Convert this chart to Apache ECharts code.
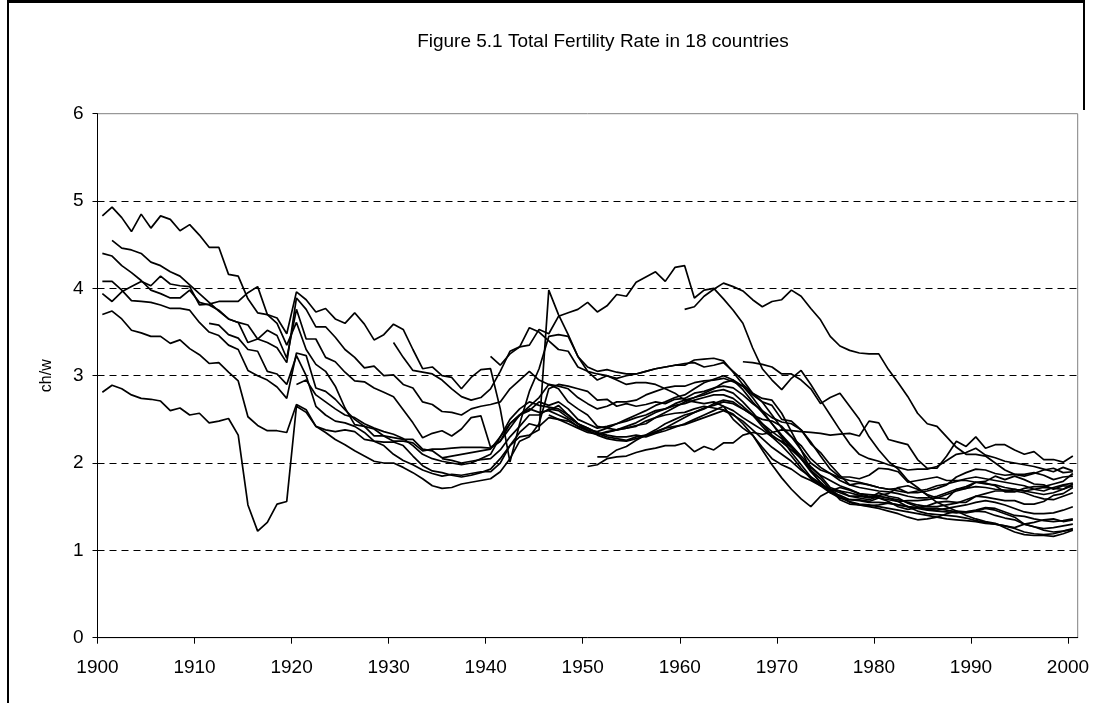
<!DOCTYPE html>
<html>
<head>
<meta charset="utf-8">
<script src="https://cdn.jsdelivr.net/npm/echarts@6/dist/echarts.min.js"></script>
<style>
  html, body { margin: 0; padding: 0; background: #fff; }
  #chart { width: 1093px; height: 703px; }
</style>
</head>
<body>
<div id="chart"></div>
<script>
// first year of each series (values run yearly up to 2000)
const seriesStart = [1900, 1901, 1900, 1900, 1900, 1900, 1900, 1911, 1930, 1940, 1950, 1951, 1960, 1966, 1920, 1935, 1946, 1946];

const s01 = [4.83,4.93,4.81,4.65,4.85,4.69,4.83,4.79,4.66,4.73,
  4.61,4.47,4.47,4.16,4.14,3.88,3.72,3.70,3.66,3.48,
  3.96,3.87,3.73,3.77,3.65,3.60,3.72,3.59,3.41,3.47,
  3.59,3.53,3.30,3.08,3.10,3.00,2.98,2.85,2.98,3.07,
  3.08,2.62,2.01,2.45,2.82,3.08,3.45,3.47,3.45,3.22,
  3.10,3.05,3.07,3.04,3.02,3.02,3.05,3.08,3.10,3.12,
  3.12,3.18,3.19,3.20,3.17,3.04,2.90,2.80,2.74,2.72,
  2.57,2.36,2.15,1.92,1.77,1.66,1.63,1.58,1.58,1.56,
  1.60,1.56,1.50,1.47,1.49,1.51,1.55,1.56,1.55,1.55,
  1.62,1.61,1.59,1.57,1.57,1.53,1.53,1.56,1.63,1.65,
  1.72];
const s02 = [4.55,4.46,4.44,4.40,4.30,4.26,4.19,4.14,4.04,
  3.94,3.84,3.74,3.65,3.61,3.58,3.42,3.38,3.32,3.15,
  3.89,3.76,3.56,3.56,3.44,3.30,3.21,3.09,3.11,3.00,
  3.01,2.90,2.86,2.70,2.67,2.59,2.58,2.55,2.62,2.65,
  2.67,2.70,2.85,2.95,3.05,2.95,2.90,2.88,2.85,2.75,
  2.68,2.62,2.65,2.70,2.70,2.72,2.78,2.82,2.86,2.88,
  2.88,2.92,2.94,2.95,2.97,2.93,2.88,2.78,2.70,2.66,
  2.50,2.48,2.38,2.22,2.12,1.98,1.86,1.75,1.77,1.75,
  1.72,1.70,1.71,1.66,1.66,1.68,1.71,1.75,1.84,1.89,
  1.93,1.92,1.88,1.86,1.87,1.87,1.89,1.86,1.81,1.84,
  1.85];
const s03 = [4.40,4.37,4.26,4.18,4.09,3.98,3.94,3.89,3.89,3.98,
  3.84,3.81,3.75,3.65,3.61,3.38,3.42,3.52,3.46,3.20,
  3.76,3.42,3.42,3.21,3.16,3.04,2.94,2.93,2.86,2.81,
  2.76,2.61,2.46,2.29,2.34,2.37,2.31,2.39,2.52,2.54,
  2.18,2.25,2.45,2.55,2.65,2.75,2.90,2.85,2.70,2.62,
  2.55,2.42,2.40,2.38,2.40,2.42,2.48,2.52,2.58,2.64,
  2.70,2.75,2.78,2.82,2.84,2.80,2.70,2.58,2.45,2.32,
  2.24,2.15,2.05,1.95,1.85,1.72,1.68,1.62,1.60,1.58,
  1.62,1.60,1.56,1.50,1.45,1.42,1.41,1.40,1.39,1.37,
  1.34,1.32,1.30,1.28,1.26,1.30,1.32,1.35,1.36,1.33,
  1.35];
const s04 = [4.08,4.08,3.98,3.86,3.85,3.84,3.81,3.77,3.77,3.75,
  3.61,3.50,3.46,3.35,3.30,3.06,3.00,2.95,2.87,2.74,
  3.26,3.23,2.86,2.82,2.73,2.61,2.50,2.42,2.39,2.31,
  2.29,2.27,2.27,2.16,2.14,2.06,2.08,2.10,2.12,2.14,
  2.16,2.30,2.50,2.62,2.70,2.66,2.64,2.62,2.55,2.45,
  2.40,2.35,2.32,2.30,2.30,2.32,2.30,2.34,2.37,2.41,
  2.45,2.50,2.55,2.60,2.65,2.60,2.52,2.45,2.38,2.30,
  2.25,2.18,2.05,1.92,1.82,1.70,1.58,1.53,1.52,1.50,
  1.48,1.45,1.42,1.38,1.35,1.36,1.38,1.42,1.45,1.44,
  1.45,1.48,1.46,1.42,1.38,1.30,1.27,1.23,1.21,1.22,
  1.24];
const s05 = [3.94,3.85,3.96,4.02,4.08,4.03,4.14,4.05,4.03,4.02,
  3.81,3.82,3.85,3.85,3.85,3.95,4.02,3.70,3.60,3.35,
  3.61,3.30,3.13,3.05,2.88,2.63,2.44,2.42,2.31,2.31,
  2.25,2.25,2.23,2.14,2.16,2.16,2.17,2.18,2.18,2.18,
  2.17,2.25,2.40,2.55,2.62,2.58,2.60,2.66,2.55,2.45,
  2.37,2.32,2.28,2.26,2.25,2.28,2.31,2.36,2.40,2.46,
  2.52,2.58,2.63,2.66,2.70,2.68,2.62,2.55,2.45,2.36,
  2.28,2.12,1.98,1.84,1.76,1.70,1.62,1.55,1.52,1.51,
  1.52,1.54,1.52,1.50,1.48,1.46,1.45,1.44,1.43,1.44,
  1.46,1.49,1.48,1.44,1.40,1.39,1.36,1.34,1.33,1.34,
  1.36];
const s06 = [3.70,3.74,3.65,3.52,3.49,3.45,3.45,3.37,3.41,3.31,
  3.24,3.14,3.15,3.04,2.94,2.53,2.43,2.37,2.37,2.35,
  2.67,2.61,2.42,2.38,2.36,2.38,2.36,2.27,2.25,2.24,
  2.24,2.20,2.08,1.97,1.91,1.89,1.86,1.84,1.86,1.89,
  1.93,2.05,2.20,2.35,2.45,2.42,2.52,2.50,2.48,2.42,
  2.37,2.33,2.36,2.38,2.40,2.43,2.45,2.52,2.55,2.57,
  2.58,2.62,2.65,2.63,2.61,2.56,2.45,2.32,2.18,2.05,
  1.98,1.93,1.85,1.80,1.74,1.70,1.68,1.66,1.63,1.61,
  1.60,1.58,1.56,1.57,1.57,1.58,1.60,1.64,1.68,1.71,
  1.73,1.72,1.70,1.69,1.68,1.66,1.62,1.59,1.58,1.62,
  1.66];
const s07 = [2.81,2.89,2.85,2.78,2.74,2.73,2.71,2.60,2.63,2.55,
  2.57,2.46,2.48,2.51,2.32,1.52,1.22,1.32,1.53,1.56,
  2.65,2.58,2.42,2.35,2.27,2.21,2.14,2.08,2.02,2.00,
  2.00,1.95,1.89,1.82,1.74,1.71,1.72,1.76,1.78,1.80,
  1.82,1.90,2.05,2.25,2.30,2.45,2.85,2.90,2.88,2.85,
  2.82,2.72,2.73,2.65,2.68,2.65,2.67,2.70,2.68,2.73,
  2.74,2.80,2.82,2.86,2.88,2.86,2.78,2.68,2.60,2.52,
  2.47,2.45,2.38,2.24,2.08,1.93,1.84,1.84,1.82,1.86,
  1.94,1.93,1.90,1.78,1.80,1.82,1.84,1.80,1.80,1.80,
  1.78,1.77,1.74,1.67,1.67,1.71,1.73,1.73,1.76,1.79,
  1.88];
const s08 = [3.60,3.58,3.47,3.43,3.30,3.28,3.05,3.02,2.90,
  3.23,3.00,2.65,2.55,2.48,2.46,2.42,2.35,2.25,2.20,
  2.10,2.03,1.98,1.92,1.88,1.85,1.87,1.86,1.88,1.90,
  1.90,2.00,2.20,2.30,2.32,2.38,3.98,3.70,3.47,3.22,
  3.05,2.95,3.00,2.95,2.90,2.92,2.92,2.90,2.85,2.80,
  2.72,2.70,2.68,2.70,2.65,2.50,2.40,2.32,2.15,1.98,
  1.83,1.70,1.59,1.50,1.62,1.68,1.72,1.69,1.65,1.64,
  1.63,1.65,1.72,1.74,1.70,1.64,1.60,1.59,1.70,1.71,
  1.78,1.79,1.85,1.81,1.85,1.81,1.76,1.75,1.70,1.74,
  1.73];
const s09 = [3.38,3.21,3.06,3.04,3.02,2.95,2.85,2.76,2.72,2.75,
  2.85,3.05,3.28,3.33,3.55,3.50,3.40,3.30,3.28,3.10,
  3.05,3.02,3.00,2.97,3.00,3.02,3.05,3.08,3.10,3.12,
  3.14,3.15,3.10,3.12,3.15,3.05,2.95,2.80,2.70,2.55,
  2.40,2.30,2.15,2.00,1.92,1.88,1.83,1.80,1.78,1.75,
  1.72,1.70,1.68,1.66,1.68,1.70,1.74,1.76,1.79,1.82,
  1.84,1.82,1.80,1.78,1.76,1.74,1.70,1.68,1.72,1.75,
  1.77];
const s10 = [3.22,3.12,3.25,3.33,3.35,3.53,3.48,3.68,3.72,3.76,
  3.84,3.73,3.80,3.93,3.91,4.07,4.13,4.19,4.08,4.24,
  4.26,3.89,3.98,4.00,3.88,3.75,3.60,3.32,3.08,2.95,
  2.84,2.97,3.06,2.90,2.72,2.55,2.38,2.22,2.10,2.05,
  2.02,1.98,1.95,1.92,1.93,1.93,1.96,2.03,2.10,2.12,
  2.17,2.09,2.06,2.02,2.00,1.98,1.96,1.93,1.90,1.95,
  1.91];
const s11 = [1.96,1.98,2.05,2.07,2.08,2.12,2.15,2.17,2.20,2.20,
  2.23,2.13,2.19,2.15,2.23,2.23,2.32,2.35,2.33,2.35,
  2.38,2.37,2.36,2.35,2.34,2.32,2.33,2.34,2.31,2.48,
  2.46,2.27,2.24,2.21,2.04,1.94,1.94,2.08,2.25,2.19,
  2.30,2.17,2.21,2.21,2.15,2.10,2.13,2.04,2.04,2.01,
  2.08];
const s12 = [2.07,2.07,2.15,2.19,2.26,2.32,2.38,2.45,2.50,
  2.55,2.58,2.62,2.68,2.72,2.70,2.62,2.55,2.50,2.48,
  2.42,2.30,2.20,2.05,1.95,1.88,1.80,1.75,1.72,1.70,
  1.68,1.67,1.65,1.62,1.60,1.60,1.62,1.66,1.70,1.73,
  1.78,1.76,1.75,1.72,1.70,1.68,1.70,1.72,1.71,1.70,
  1.76];
const s13 = [3.76,3.79,3.91,3.99,4.06,4.02,3.97,3.87,3.79,3.85,
  3.87,3.98,3.91,3.77,3.64,3.45,3.34,3.29,3.26,3.25,
  3.25,3.07,2.92,2.76,2.57,2.45,2.42,2.30,2.18,2.10,
  2.10,2.08,2.00,1.92,1.87,1.85,1.88,1.92,1.94,1.89,
  1.90];
const s14 = [3.16,3.15,3.13,3.10,
  3.02,3.02,2.95,2.85,2.68,2.75,2.80,2.65,2.50,2.30,
  2.15,2.02,1.93,1.80,1.72,1.63,1.55,1.50,1.45,1.40,
  1.36,1.33,1.31,1.26,1.21,1.18,1.17,1.17,1.16,1.19,
  1.23];
const s15 = [2.90,2.95,2.78,2.70,2.62,2.55,2.52,2.45,2.40,2.36,
  2.33,2.28,2.20,2.10,2.05,2.02,2.00,1.98,2.00,2.05,
  2.10,2.30,2.45,2.55,2.60,2.70,2.66,2.70,2.62,2.50,
  2.45,2.40,2.42,2.45,2.48,2.52,2.55,2.60,2.62,2.66,
  2.68,2.72,2.75,2.78,2.78,2.74,2.65,2.55,2.42,2.30,
  2.20,2.08,1.94,1.82,1.74,1.66,1.60,1.56,1.53,1.52,
  1.50,1.48,1.46,1.44,1.42,1.40,1.38,1.36,1.35,1.34,
  1.33,1.31,1.30,1.28,1.25,1.21,1.19,1.18,1.19,1.22,
  1.25];
const s16 = [2.05,2.03,2.00,2.02,2.04,
  2.05,2.15,2.30,2.42,2.55,2.55,2.62,2.60,2.52,2.45,
  2.40,2.34,2.30,2.28,2.26,2.30,2.32,2.35,2.40,2.42,
  2.44,2.48,2.52,2.56,2.60,2.55,2.48,2.38,2.28,2.18,
  2.10,2.02,1.92,1.84,1.76,1.70,1.66,1.62,1.62,1.60,
  1.66,1.62,1.60,1.54,1.50,1.47,1.46,1.48,1.50,1.52,
  1.55,1.57,1.55,1.52,1.48,1.44,1.42,1.42,1.43,1.46,
  1.50];
const s17 = [2.55,2.50,2.45,2.40,
  2.35,2.33,2.35,2.38,2.42,2.46,2.52,2.58,2.62,2.68,
  2.72,2.75,2.80,2.85,2.92,2.95,2.88,2.75,2.60,2.45,
  2.30,2.18,2.05,1.90,1.78,1.68,1.60,1.58,1.57,1.55,
  1.55,1.54,1.52,1.50,1.49,1.48,1.48,1.46,1.44,1.43,
  1.45,1.44,1.40,1.37,1.35,1.30,1.27,1.25,1.26,1.28,
  1.30];
const s18 = [2.60,2.55,2.50,2.42,
  2.38,2.36,2.40,2.45,2.50,2.55,2.60,2.66,2.70,2.75,
  2.78,2.85,2.92,2.96,3.00,2.95,2.84,2.70,2.58,2.45,
  2.32,2.20,2.08,1.96,1.86,1.80,1.74,1.70,1.65,1.62,
  1.62,1.60,1.58,1.55,1.52,1.50,1.50,1.52,1.54,1.58,
  1.62,1.65,1.68,1.68,1.70,1.68,1.66,1.64,1.66,1.70,
  1.74];

const allSeries = [s01, s02, s03, s04, s05, s06, s07, s08, s09, s10, s11, s12, s13, s14, s15, s16, s17, s18];

const xTicks = [1900, 1910, 1920, 1930, 1940, 1950, 1960, 1970, 1980, 1990, 2000];
const titleText = 'Figure 5.1 Total Fertility Rate in 18 countries';
const font = '"Liberation Sans", Arial, sans-serif';

const chart = echarts.init(document.getElementById('chart'), null, { renderer: 'canvas' });

// each yearly value is plotted in the middle of its year
const lines = allSeries.map((vals, k) => ({
  type: 'line',
  name: 'Series ' + (k + 1),
  symbol: 'none',
  showSymbol: false,
  silent: true,
  clip: true,
  data: vals.map((v, i) => [seriesStart[k] + i + 0.5, v]),
  lineStyle: { color: '#000', width: 1.7 },
  itemStyle: { color: '#000' },
  emphasis: { disabled: true }
}));

const option = {
  animation: false,
  backgroundColor: '#fff',
  grid: {
    left: 97.5, right: 15.3, top: 113.7, bottom: 65.3,
    containLabel: false,
    show: true,
    borderColor: '#808080',
    borderWidth: 1,
    backgroundColor: 'transparent'
  },
  xAxis: {
    type: 'value',
    min: 1900,
    max: 2001,
    interval: 10,
    axisLine: { show: true, onZero: false, lineStyle: { color: '#000', width: 1 } },
    axisTick: { show: true, length: 6, customValues: xTicks, lineStyle: { color: '#000' } },
    axisLabel: {
      customValues: xTicks,
      color: '#000', fontFamily: font, fontSize: 19, margin: 21,
      formatter: v => String(v)
    },
    splitLine: { show: false }
  },
  yAxis: {
    type: 'value',
    min: 0,
    max: 6,
    interval: 1,
    name: 'ch/w',
    nameLocation: 'middle',
    nameGap: 43,
    nameRotate: 90,
    nameTextStyle: { color: '#000', fontFamily: font, fontSize: 16 },
    axisLine: { show: true, lineStyle: { color: '#000', width: 1 } },
    axisTick: { show: true, length: 5, lineStyle: { color: '#000' } },
    axisLabel: { color: '#000', fontFamily: font, fontSize: 19, margin: 14 },
    splitLine: {
      show: true, showMinLine: false, showMaxLine: false,
      lineStyle: { color: '#000', width: 1, type: [7, 5] }
    }
  },
  graphic: [
    { type: 'text', x: 603, y: 42, style: { text: titleText, fill: '#000', font: '19px ' + font, textAlign: 'center', textVerticalAlign: 'middle' } },
    { type: 'line', shape: { x1: 7, y1: 1.5, x2: 1085, y2: 1.5 }, style: { stroke: '#000', lineWidth: 3 } },
    { type: 'line', shape: { x1: 8, y1: 0, x2: 8, y2: 703 }, style: { stroke: '#000', lineWidth: 2 } },
    { type: 'line', shape: { x1: 1084, y1: 0, x2: 1084, y2: 110 }, style: { stroke: '#000', lineWidth: 2 } }
  ],
  series: lines
};

chart.setOption(option);
</script>
</body>
</html>
